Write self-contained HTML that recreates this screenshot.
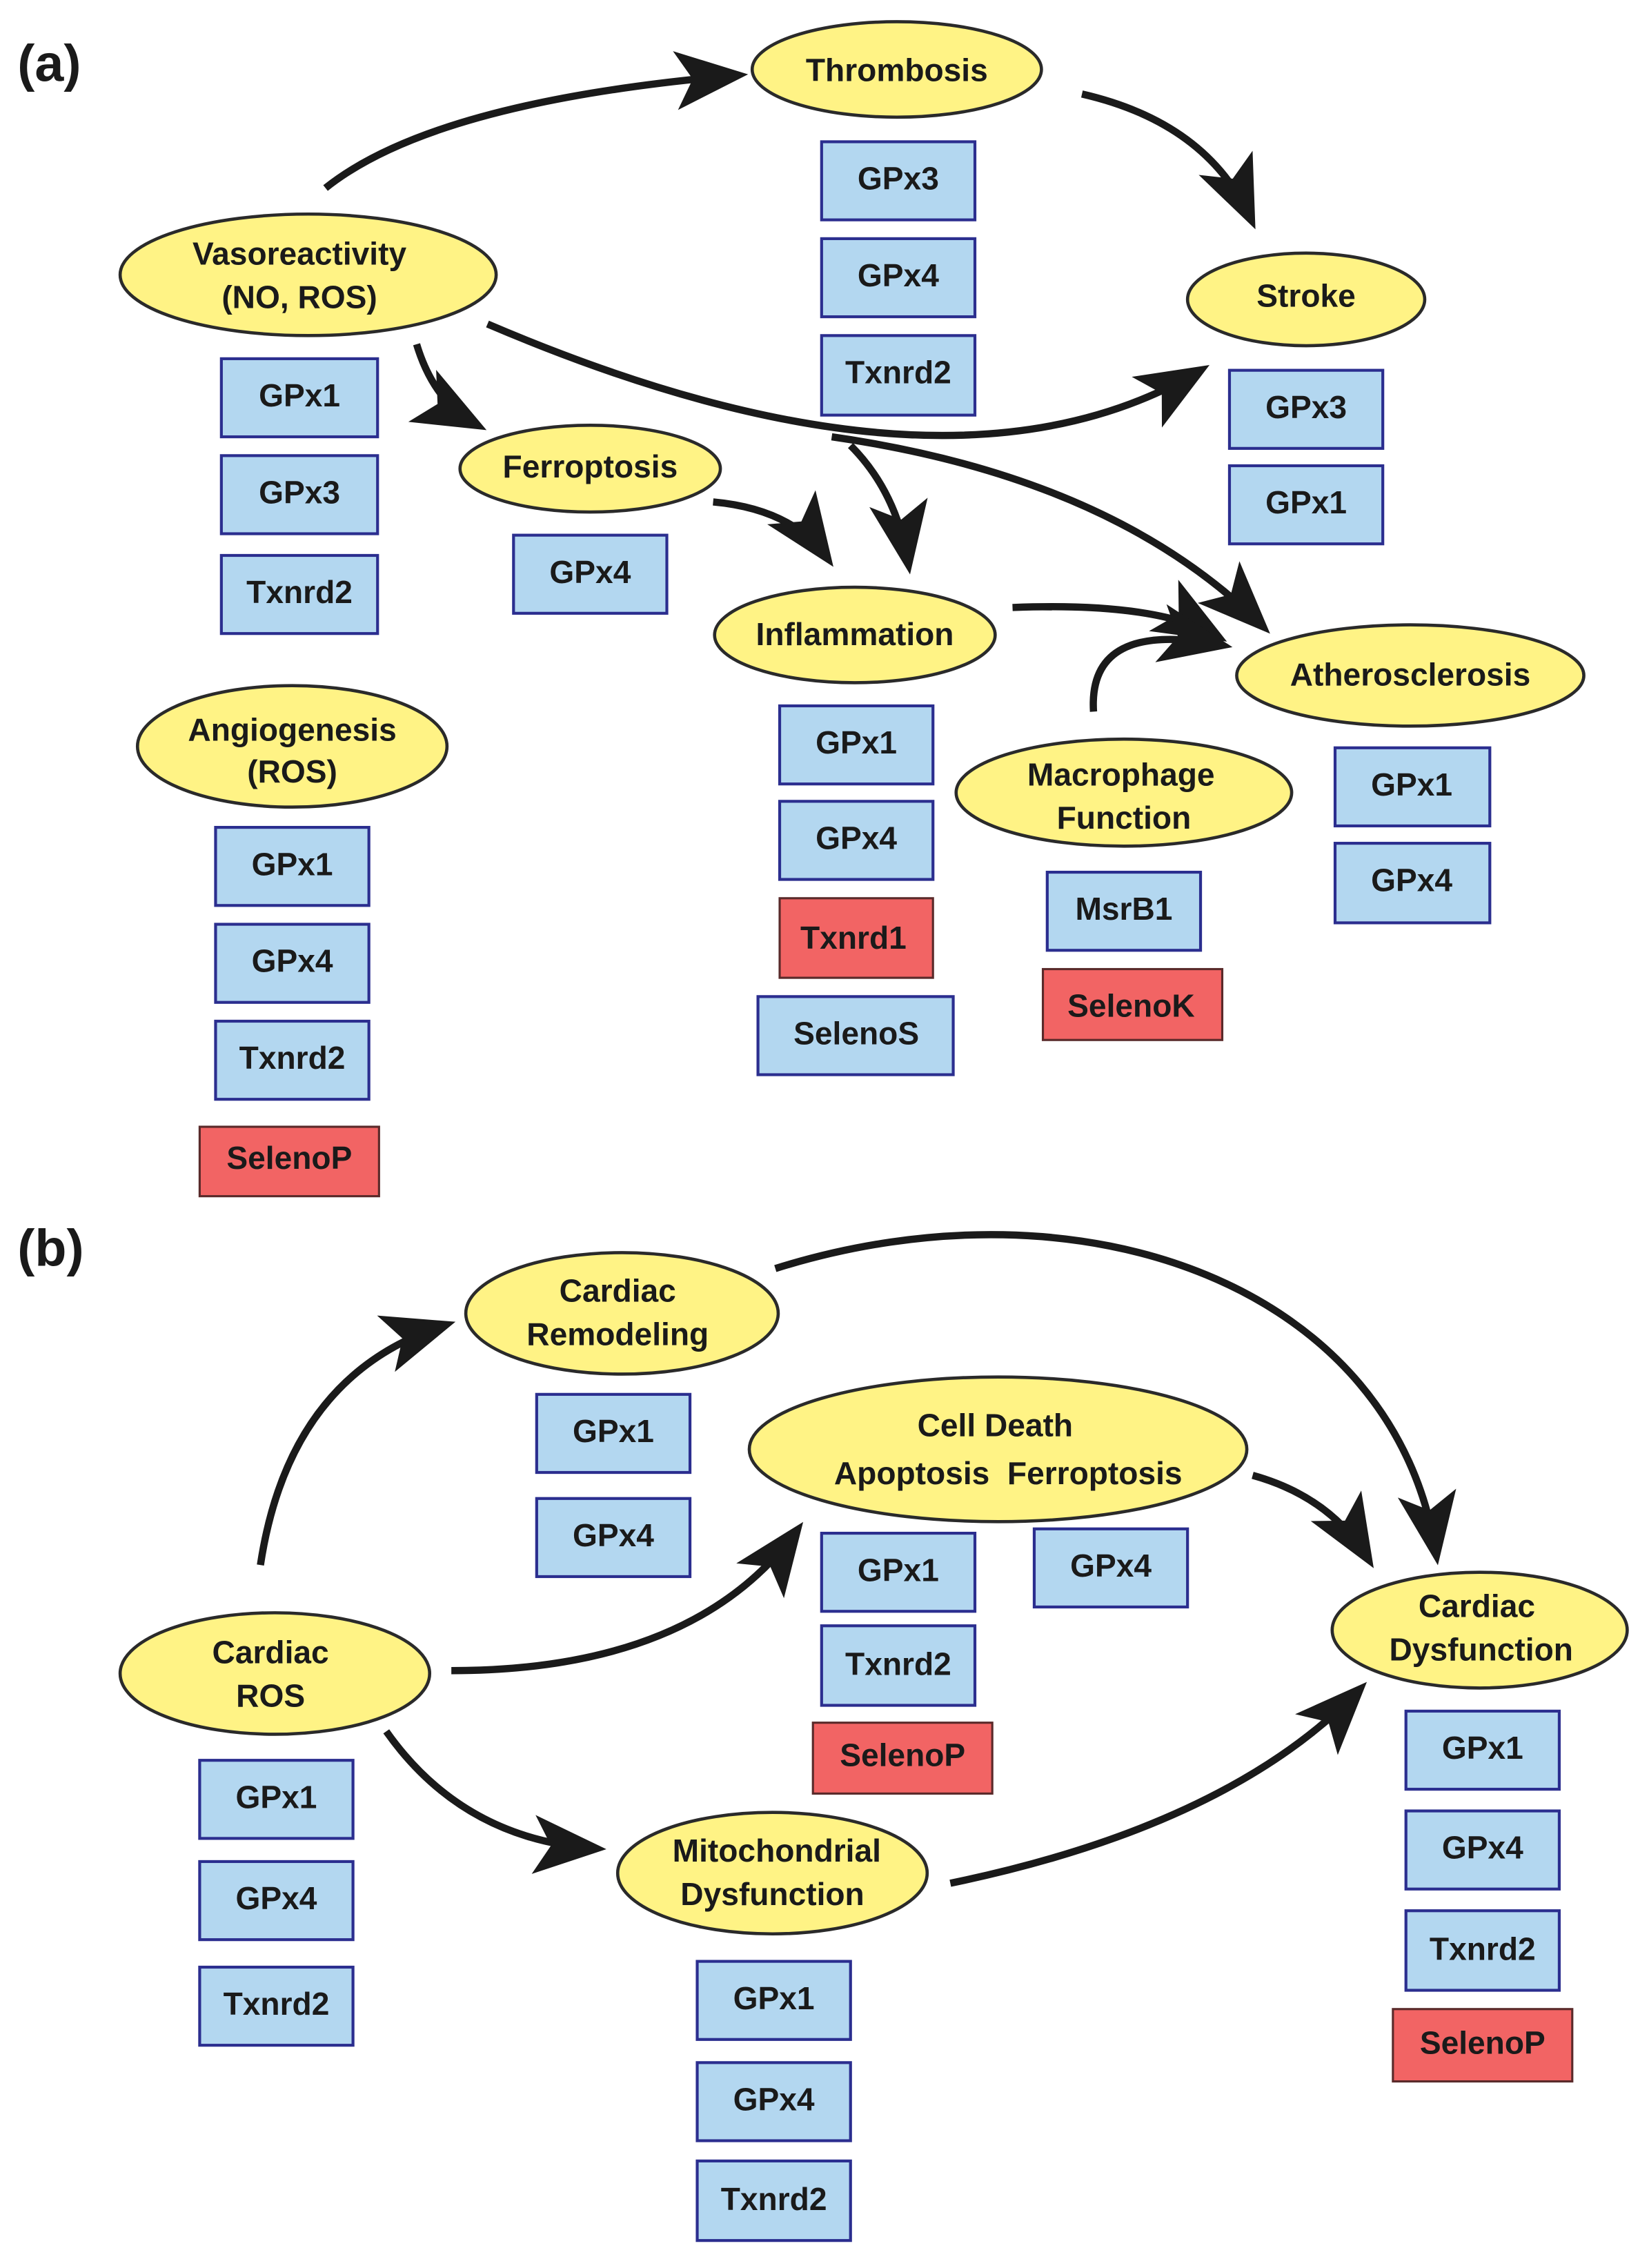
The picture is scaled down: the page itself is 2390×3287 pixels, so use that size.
<!DOCTYPE html>
<html><head><meta charset="utf-8"><style>
html,body{margin:0;padding:0;background:#fff}
svg{display:block}
text{font-family:"Liberation Sans",Arial,sans-serif;font-weight:bold;fill:#1a1a1a}
.e{fill:#fff385;stroke:#2a2a2a;stroke-width:2.2}
.b{fill:#b3d7f0;stroke:#2b2e8f;stroke-width:2}
.r{fill:#f26464;stroke:#5a2a2a;stroke-width:1.5}
.a{fill:none;stroke:#1a1a1a;stroke-width:5;marker-end:url(#ah)}
.t{font-size:22px;text-anchor:middle}
</style></head><body>
<svg width="2390" height="3287" viewBox="0 0 1140 1568" xmlns="http://www.w3.org/2000/svg">
<defs>
<marker id="ah" markerUnits="userSpaceOnUse" markerWidth="60" markerHeight="60" viewBox="-45 -25 50 50" refX="-4" refY="0" orient="auto">
<path d="M2,0 L-40,-17 L-30,0 L-40,17 Z" fill="#1a1a1a"/>
</marker>
</defs>
<text x="12" y="56" style="font-size:36px">(a)</text>
<text x="12" y="875" style="font-size:36px">(b)</text>

<!-- arrows (a) -->
<path class="a" d="M225,130 Q300,70 510,52"/>
<path class="a" d="M748,65 Q835,85 865,152"/>
<path class="a" d="M288,238 Q300,278 330,294"/>
<path class="a" d="M337,224 Q655,360 830,256"/>
<path class="a" d="M575,302 Q770,330 873,433"/>
<path class="a" d="M588,308 Q620,340 628,390"/>
<path class="a" d="M493,347 Q548,352 572,386"/>
<path class="a" d="M700,420 Q800,416 842,440"/>
<path class="a" d="M756,492 Q752,428 845,446"/>
<!-- arrows (b) -->
<path class="a" d="M180,1082 Q200,950 308,916"/>
<path class="a" d="M536,877 C750,810 965,890 993,1075"/>
<path class="a" d="M312,1155 Q480,1155 551,1058"/>
<path class="a" d="M866,1020 Q920,1035 946,1078"/>
<path class="a" d="M267,1197 Q320,1272 412,1278"/>
<path class="a" d="M657,1302 Q850,1262 940,1168"/>

<!-- ellipses -->
<ellipse class="e" cx="620" cy="48" rx="100" ry="33"/><text class="t" x="620" y="56">Thrombosis</text>
<ellipse class="e" cx="213" cy="190" rx="130" ry="42"/><text class="t" x="207" y="183">Vasoreactivity</text><text class="t" x="207" y="213">(NO, ROS)</text>
<ellipse class="e" cx="903" cy="207" rx="82" ry="32"/><text class="t" x="903" y="212">Stroke</text>
<ellipse class="e" cx="408" cy="324" rx="90" ry="30"/><text class="t" x="408" y="330">Ferroptosis</text>
<ellipse class="e" cx="591" cy="439" rx="97" ry="33"/><text class="t" x="591" y="446">Inflammation</text>
<ellipse class="e" cx="975" cy="467" rx="120" ry="35"/><text class="t" x="975" y="474">Atherosclerosis</text>
<ellipse class="e" cx="777" cy="548" rx="116" ry="37"/><text class="t" x="775" y="543">Macrophage</text><text class="t" x="777" y="573">Function</text>
<ellipse class="e" cx="202" cy="516" rx="107" ry="42"/><text class="t" x="202" y="512">Angiogenesis</text><text class="t" x="202" y="541">(ROS)</text>

<ellipse class="e" cx="430" cy="908" rx="108" ry="42"/><text class="t" x="427" y="900">Cardiac</text><text class="t" x="427" y="930">Remodeling</text>
<ellipse class="e" cx="690" cy="1002" rx="172" ry="50"/><text class="t" x="688" y="993">Cell Death</text><text class="t" x="697" y="1026" xml:space="preserve">Apoptosis  Ferroptosis</text>
<ellipse class="e" cx="1023" cy="1127" rx="102" ry="40"/><text class="t" x="1021" y="1118">Cardiac</text><text class="t" x="1024" y="1148">Dysfunction</text>
<ellipse class="e" cx="190" cy="1157" rx="107" ry="42"/><text class="t" x="187" y="1150">Cardiac</text><text class="t" x="187" y="1180">ROS</text>
<ellipse class="e" cx="534" cy="1295" rx="107" ry="42"/><text class="t" x="537" y="1287">Mitochondrial</text><text class="t" x="534" y="1317">Dysfunction</text>

<!-- boxes (a) -->
<g>
<rect class="b" x="568" y="98" width="106" height="54"/><text class="t" x="621" y="131">GPx3</text>
<rect class="b" x="568" y="165" width="106" height="54"/><text class="t" x="621" y="198">GPx4</text>
<rect class="b" x="568" y="232" width="106" height="55"/><text class="t" x="621" y="265">Txnrd2</text>

<rect class="b" x="153" y="248" width="108" height="54"/><text class="t" x="207" y="281">GPx1</text>
<rect class="b" x="153" y="315" width="108" height="54"/><text class="t" x="207" y="348">GPx3</text>
<rect class="b" x="153" y="384" width="108" height="54"/><text class="t" x="207" y="417">Txnrd2</text>

<rect class="b" x="355" y="370" width="106" height="54"/><text class="t" x="408" y="403">GPx4</text>

<rect class="b" x="850" y="256" width="106" height="54"/><text class="t" x="903" y="289">GPx3</text>
<rect class="b" x="850" y="322" width="106" height="54"/><text class="t" x="903" y="355">GPx1</text>

<rect class="b" x="539" y="488" width="106" height="54"/><text class="t" x="592" y="521">GPx1</text>
<rect class="b" x="539" y="554" width="106" height="54"/><text class="t" x="592" y="587">GPx4</text>
<rect class="r" x="539" y="621" width="106" height="55"/><text class="t" x="590" y="656">Txnrd1</text>
<rect class="b" x="524" y="689" width="135" height="54"/><text class="t" x="592" y="722">SelenoS</text>

<rect class="b" x="724" y="603" width="106" height="54"/><text class="t" x="777" y="636">MsrB1</text>
<rect class="r" x="721" y="670" width="124" height="49"/><text class="t" x="782" y="703">SelenoK</text>

<rect class="b" x="923" y="517" width="107" height="54"/><text class="t" x="976" y="550">GPx1</text>
<rect class="b" x="923" y="583" width="107" height="55"/><text class="t" x="976" y="616">GPx4</text>

<rect class="b" x="149" y="572" width="106" height="54"/><text class="t" x="202" y="605">GPx1</text>
<rect class="b" x="149" y="639" width="106" height="54"/><text class="t" x="202" y="672">GPx4</text>
<rect class="b" x="149" y="706" width="106" height="54"/><text class="t" x="202" y="739">Txnrd2</text>
<rect class="r" x="138" y="779" width="124" height="48"/><text class="t" x="200" y="808">SelenoP</text>
</g>
<!-- boxes (b) -->
<g>
<rect class="b" x="371" y="964" width="106" height="54"/><text class="t" x="424" y="997">GPx1</text>
<rect class="b" x="371" y="1036" width="106" height="54"/><text class="t" x="424" y="1069">GPx4</text>

<rect class="b" x="568" y="1060" width="106" height="54"/><text class="t" x="621" y="1093">GPx1</text>
<rect class="b" x="568" y="1124" width="106" height="55"/><text class="t" x="621" y="1158">Txnrd2</text>
<rect class="r" x="562" y="1191" width="124" height="49"/><text class="t" x="624" y="1221">SelenoP</text>
<rect class="b" x="715" y="1057" width="106" height="54"/><text class="t" x="768" y="1090">GPx4</text>

<rect class="b" x="138" y="1217" width="106" height="54"/><text class="t" x="191" y="1250">GPx1</text>
<rect class="b" x="138" y="1287" width="106" height="54"/><text class="t" x="191" y="1320">GPx4</text>
<rect class="b" x="138" y="1360" width="106" height="54"/><text class="t" x="191" y="1393">Txnrd2</text>

<rect class="b" x="482" y="1356" width="106" height="54"/><text class="t" x="535" y="1389">GPx1</text>
<rect class="b" x="482" y="1426" width="106" height="54"/><text class="t" x="535" y="1459">GPx4</text>
<rect class="b" x="482" y="1494" width="106" height="55"/><text class="t" x="535" y="1528">Txnrd2</text>

<rect class="b" x="972" y="1183" width="106" height="54"/><text class="t" x="1025" y="1216">GPx1</text>
<rect class="b" x="972" y="1252" width="106" height="54"/><text class="t" x="1025" y="1285">GPx4</text>
<rect class="b" x="972" y="1321" width="106" height="55"/><text class="t" x="1025" y="1355">Txnrd2</text>
<rect class="r" x="963" y="1389" width="124" height="50"/><text class="t" x="1025" y="1420">SelenoP</text>
</g>
</svg>
</body></html>
